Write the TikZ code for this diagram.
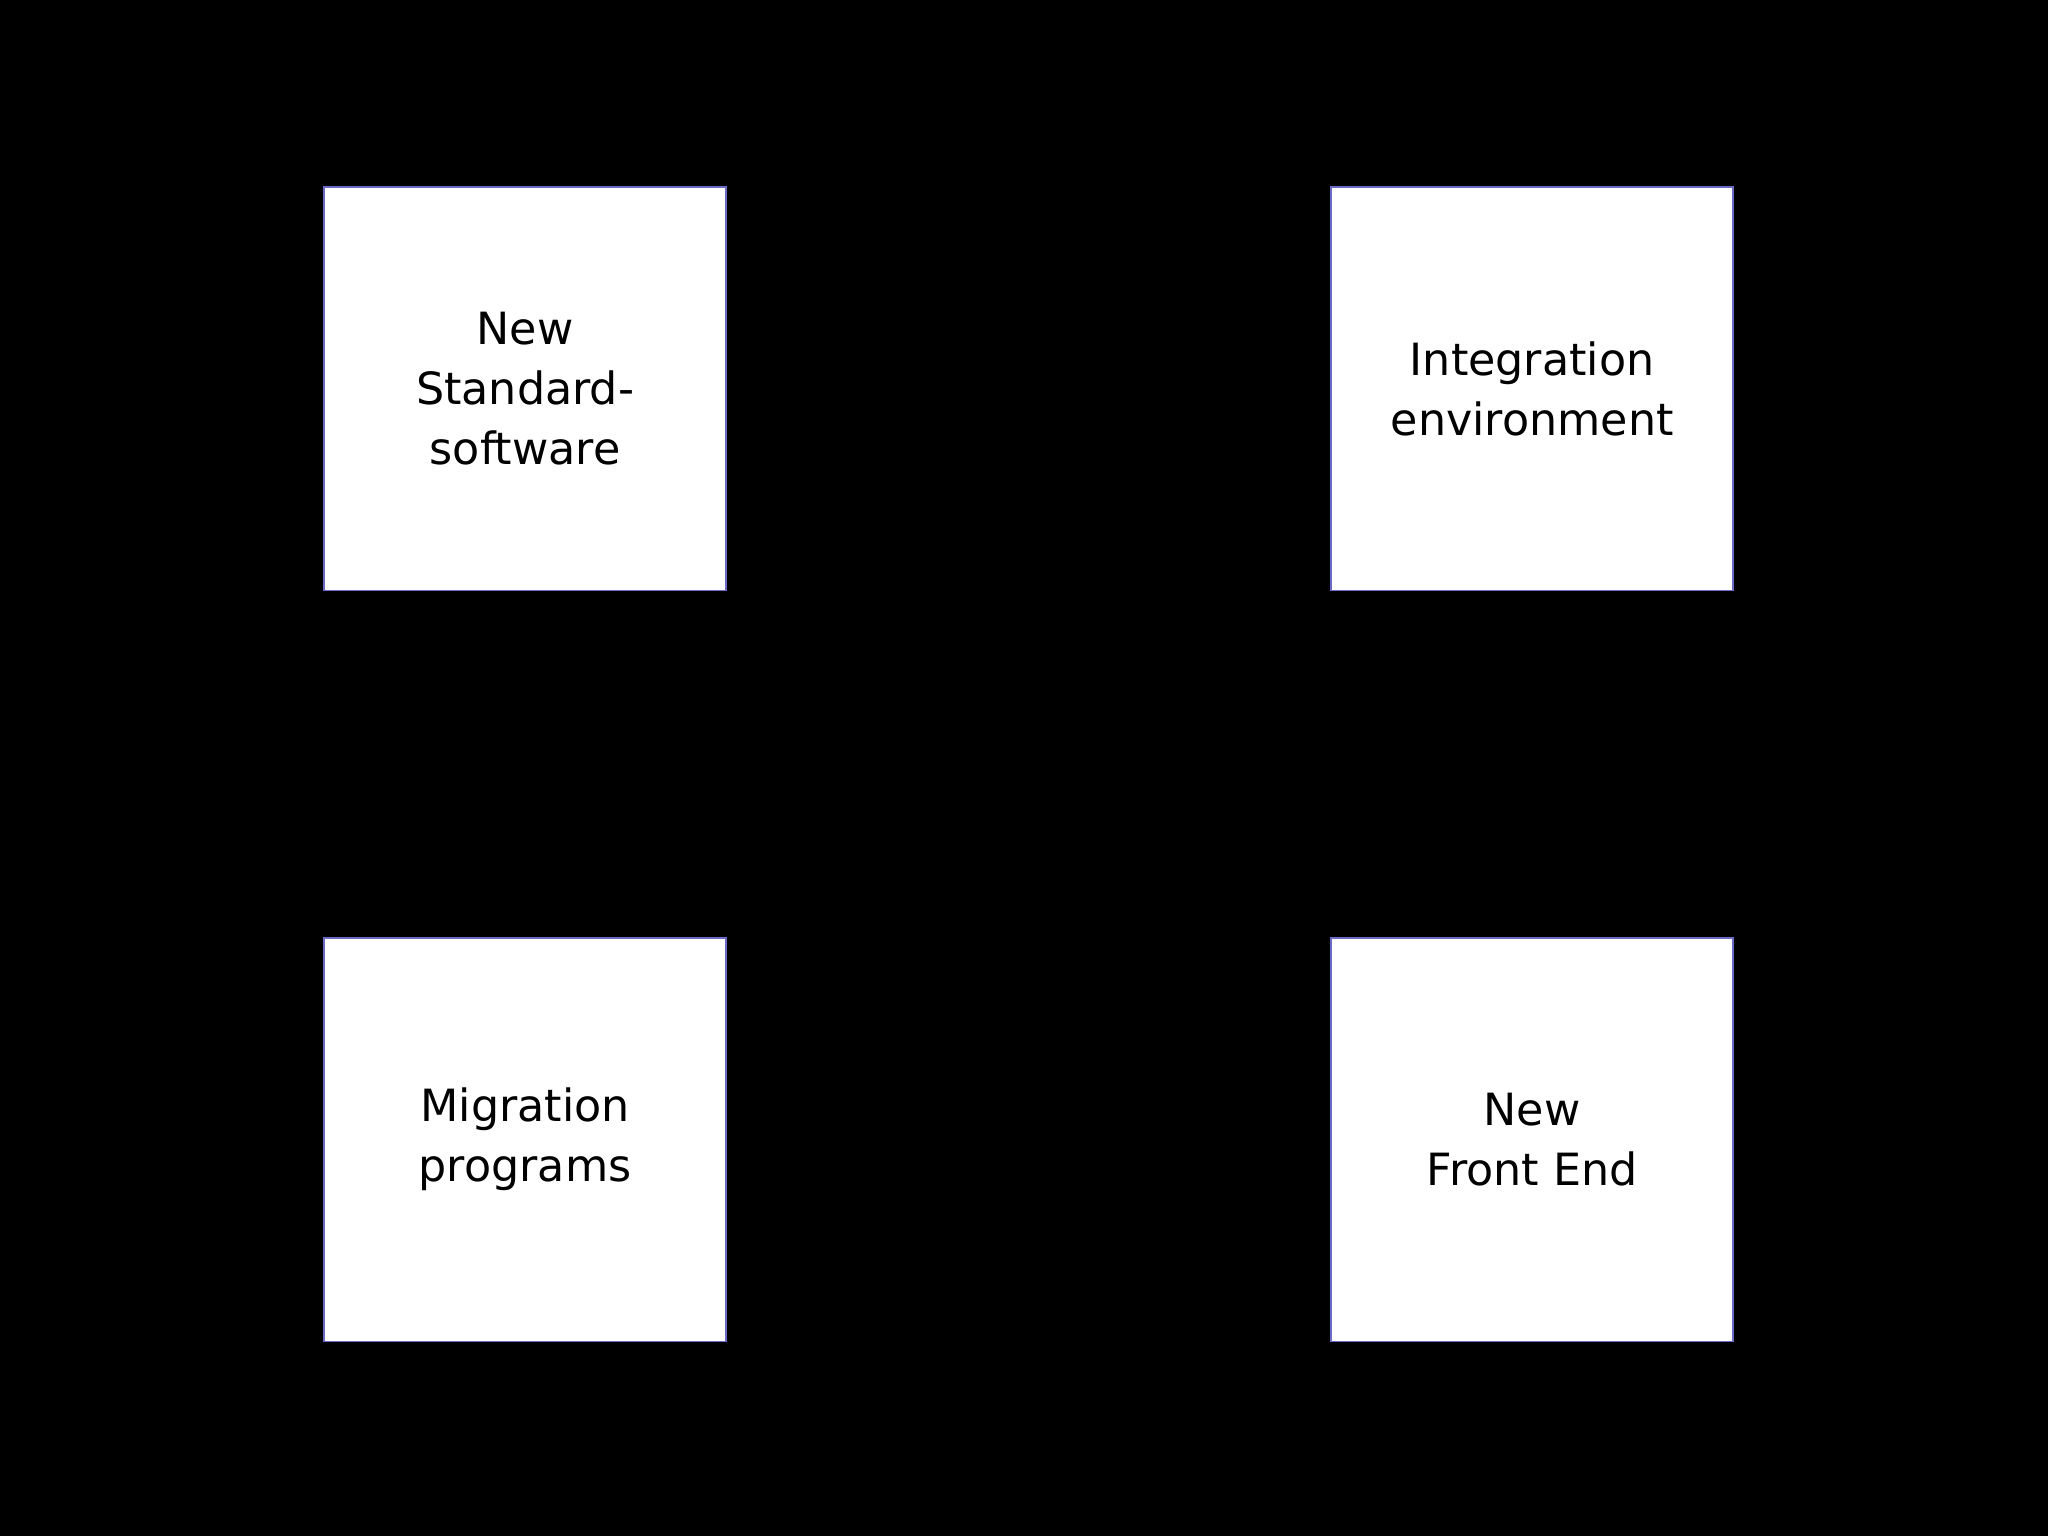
\documentclass[tikz,border=0pt]{standalone}
\usepackage{fontspec}
\setmainfont{DejaVu Sans}
\begin{document}
\begin{tikzpicture}[x=0.5pt,y=-0.5pt,
  box/.style={draw=blue!45!gray!80,line width=0.6pt,fill=white,minimum width=154pt,minimum height=154.5pt,inner sep=0pt,align=center,font=\fontsize{17}{23}\selectfont,text=black}]
\fill[black] (0,0) rectangle (1568,1176);
\node[box] (nss) at (402,297.5) {New\\Standard-\\software};
\node[box] (ie) at (1173,297.5) {Integration\\environment};
\node[box] (mp) at (402,872.5) {Migration\\programs};
\node[box] (nfe) at (1173,872.5) {New\\Front End};
\end{tikzpicture}
\end{document}
